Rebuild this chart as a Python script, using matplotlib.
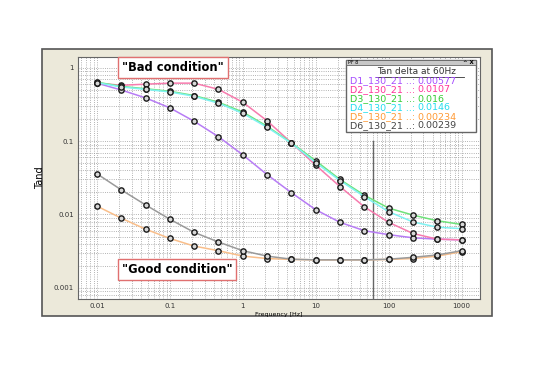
"""Tan delta vs frequency for six bushings (D1..D6), log-log, with 60 Hz marker."""

import matplotlib

matplotlib.use("Agg")
import matplotlib.pyplot as plt
from matplotlib.patches import Rectangle

freq = [0.01, 0.0215, 0.0464, 0.1, 0.215, 0.464, 1, 2.15, 4.64, 10, 21.5, 46.4, 100, 215, 464, 1000]

d1 = [0.62, 0.50, 0.39, 0.285, 0.187, 0.115, 0.065, 0.035, 0.0198, 0.0116, 0.0078, 0.0060,
      0.0053, 0.0048, 0.0046, 0.0045]
d2 = [0.62, 0.58, 0.60, 0.62, 0.62, 0.51, 0.34, 0.19, 0.095, 0.047, 0.024, 0.0127,
      0.0078, 0.0055, 0.0046, 0.0045]
d3 = [0.64, 0.56, 0.52, 0.48, 0.42, 0.34, 0.25, 0.16, 0.095, 0.054, 0.030, 0.0183,
      0.0122, 0.0098, 0.0082, 0.0073]
d4 = [0.63, 0.55, 0.51, 0.47, 0.41, 0.33, 0.24, 0.155, 0.094, 0.051, 0.029, 0.0175,
      0.0109, 0.0079, 0.0067, 0.0064]
d5 = [0.013, 0.0089, 0.0063, 0.0047, 0.0037, 0.0032, 0.0027, 0.0025, 0.00243, 0.0024,
      0.0024, 0.0024, 0.00243, 0.0025, 0.0027, 0.0031]
d6 = [0.0359, 0.0217, 0.0135, 0.0086, 0.0057, 0.0042, 0.0032, 0.0027, 0.00245, 0.0024,
      0.0024, 0.0024, 0.00245, 0.0026, 0.0028, 0.0032]

names = ["D1_130_21 ..:", "D2_130_21 ..:", "D3_130_21 ..:", "D4_130_21 ..:",
         "D5_130_21 ..:", "D6_130_21 ..:"]
at60 = ["0.00577", "0.0107", "0.016", "0.0146", "0.00234", "0.00239"]
line_colors = ["#B77CF5", "#F77BAE", "#6FE27A", "#7FF2F2", "#F9BE8A", "#9A9A9A"]
text_colors = ["#A64DFF", "#FF3399", "#33CC33", "#22DDEE", "#FF9933", "#444444"]

series = [d1, d2, d3, d4, d5, d6]

fig = plt.figure(figsize=(5.38, 3.8), dpi=100)

# beige window frame behind the plot
fig.patches.append(Rectangle((0.078, 0.168), 0.836, 0.703, transform=fig.transFigure,
                             facecolor="#ECE9DA", edgecolor="#555555", lw=1.2, zorder=0))

ax = fig.add_axes([0.145, 0.213, 0.747, 0.637])
ax.set_zorder(1)
ax.set_facecolor("white")
for ys, c in zip(series, line_colors):
    ax.plot(freq, ys, color=c, lw=1.1, marker="o", ms=3.8, mfc="#D8D8D8", mec="#1A1A1A",
            mew=1.0, zorder=3)

ax.set_xscale("log")
ax.set_yscale("log")
ax.set_xlim(0.0055, 1780)
ax.set_ylim(0.0007, 1.41)
ax.set_xticks([0.01, 0.1, 1, 10, 100, 1000])
ax.set_xticklabels(["0.01", "0.1", "1", "10", "100", "1000"])
ax.set_yticks([0.001, 0.01, 0.1, 1])
ax.set_yticklabels(["0.001", "0.01", "0.1", "1"])
ax.tick_params(which="both", length=0, labelsize=5, colors="#333333", pad=3)
ax.grid(which="both", ls=":", color="#9A9A9A", lw=0.6)
for s in ax.spines.values():
    s.set_color("#666666")
    s.set_linewidth(0.8)
ax.set_xlabel("Frequency [Hz]", fontsize=4.5, labelpad=2)
ax.set_ylabel("Tand", fontsize=7, labelpad=6)

# 60 Hz cursor
ax.plot([60, 60], [0.1, 0.0007], color="#666666", lw=1.0, zorder=2)

# condition labels
box = dict(boxstyle="square,pad=0.35", facecolor="white", edgecolor="#E07070", lw=1.0)
fig.text(0.321, 0.822, "\"Bad condition\"", fontsize=8.3, fontweight="bold", ha="center",
         va="center", bbox=box, zorder=5)
fig.text(0.329, 0.290, "\"Good condition\"", fontsize=8.3, fontweight="bold", ha="center",
         va="center", bbox=box, zorder=5)

# legend window
lx0, lx1 = 346 / 538, 476 / 538
ly_top, ly_bot = 1 - 60 / 380, 1 - 132 / 380
fig.patches.append(Rectangle((lx0, ly_bot), lx1 - lx0, ly_top - ly_bot,
                             transform=fig.transFigure, facecolor="white",
                             edgecolor="#666666", lw=1.0, zorder=5))
bar_h = 5 / 380
fig.patches.append(Rectangle((lx0, ly_top - bar_h), lx1 - lx0, bar_h,
                             transform=fig.transFigure, facecolor="#C8C8C8",
                             edgecolor="#666666", lw=0.6, zorder=6))
fig.text(lx0 + 0.004, ly_top - bar_h / 2, "PF 8", fontsize=3.5, va="center", zorder=7)
fig.text(lx1 - 0.004, ly_top - bar_h / 2, "^ X", fontsize=4, va="center", ha="right",
         fontweight="bold", zorder=7)
fig.text((lx0 + lx1) / 2 + 0.01, 1 - 72 / 380, "Tan delta at 60Hz", fontsize=6.5,
         ha="center", va="center", color="#333333", zorder=7)
fig.lines.append(plt.Line2D([lx0 + 0.056, lx1 - 0.022], [1 - 77 / 380] * 2,
                            transform=fig.transFigure, color="#333333", lw=0.6, zorder=7))
for i, (n, v, c) in enumerate(zip(names, at60, text_colors)):
    y = 1 - (81 + i * 9) / 380
    fig.text(lx0 + 0.007, y, n, fontsize=6.8, color=c, va="center", zorder=7)
    fig.text(lx0 + 0.132, y, v, fontsize=6.8, color=c, va="center", zorder=7)

fig.savefig("out.png", dpi=100)
